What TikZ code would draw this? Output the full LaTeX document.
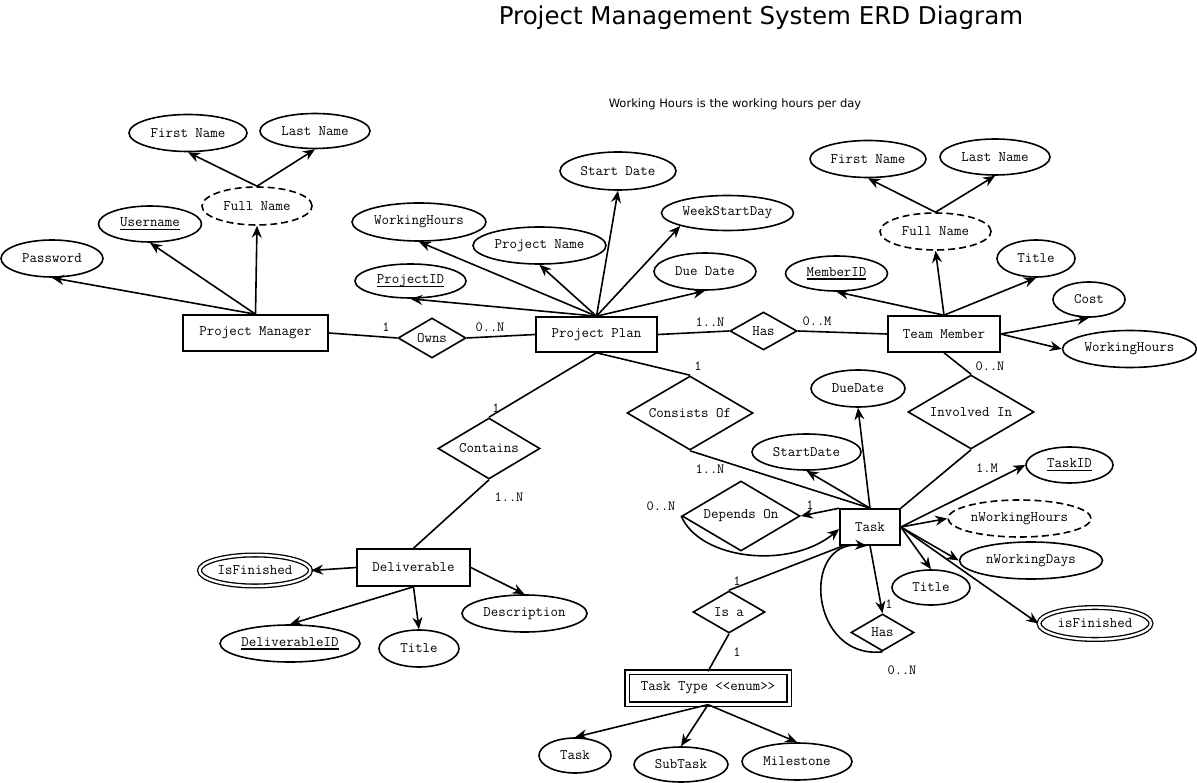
\documentclass[tikz,border=0pt]{standalone}
\usepackage{fontspec}
\newfontfamily\titlefont{DejaVu Sans}
\usetikzlibrary{shapes.geometric,arrows.meta}
\newcommand\keyattr[1]{\setbox0\hbox{#1}\rlap{\rule[-3.5pt]{\wd0}{1.4pt}}\box0}
\begin{document}
\begin{tikzpicture}[x=1pt,y=-1pt, line width=1.6pt,
 every node/.style={font=\ttfamily\fontsize{14.5}{16}\selectfont, inner sep=0pt},
 ent/.style={draw, rectangle, line width=1.6pt},
 rel/.style={draw, diamond, aspect=2, line width=1.6pt},
 attr/.style 2 args={draw, ellipse, minimum width=#1, minimum height=#2, line width=1.6pt},
 derived/.style={dash pattern=on 7pt off 4pt},
 multi/.style={double, double distance=2.4pt, line width=1.3pt},
 arr/.style={-{Stealth[length=12pt,width=10pt,inset=4pt]}},
 lbl/.style={font=\ttfamily\fontsize{14}{16}\selectfont}
]
\useasboundingbox (0,0) rectangle (1197,783);

% titles
\node[font=\titlefont\fontsize{24.5}{28}\selectfont] (title) at (761,18) {Project Management System ERD Diagram};
\node[font=\titlefont\fontsize{11.5}{13}\selectfont] (note) at (735,104) {Working Hours is the working hours per day};

% entities
\node[ent, minimum width=145, minimum height=36] (pm) at (255.5,333) {Project Manager};
\node[ent, minimum width=121, minimum height=35] (pp) at (596.5,334.5) {Project Plan};
\node[ent, minimum width=112, minimum height=36] (tm) at (944,334) {Team Member};
\node[ent, minimum width=60, minimum height=36] (task) at (870,527) {Task};
\node[ent, minimum width=113, minimum height=37] (del) at (413.5,567.5) {Deliverable};
\node[ent, minimum width=162, minimum height=32, double, double distance=3pt, line width=1.3pt] (tt) at (708,688) {Task Type <{}<enum>{}>};

% relationships
\node[rel, minimum width=68, minimum height=40] (owns) at (432,338) {Owns};
\node[rel, minimum width=67, minimum height=38] (hastop) at (763.5,331) {Has};
\node[rel, minimum width=102, minimum height=61] (contains) at (489,448.5) {Contains};
\node[rel, minimum width=126, minimum height=74] (consists) at (690,413) {Consists Of};
\node[rel, minimum width=126, minimum height=74] (involved) at (971,412) {Involved In};
\node[rel, minimum width=118, minimum height=70] (depends) at (741,516) {Depends On};
\node[rel, minimum width=63, minimum height=37] (hasbot) at (882.5,632.5) {Has};
\node[rel, minimum width=72, minimum height=42] (isa) at (729,612) {Is a};

% Project Manager attributes
\node[attr={118}{37}] (first1) at (188,133) {First Name};
\node[attr={110}{35}] (last1) at (315,131) {Last Name};
\node[attr={110}{38}, derived] (full1) at (257,206) {Full Name};
\node[attr={103}{36}] (user) at (150,224) {\keyattr{Username}};
\node[attr={102}{37}] (pass) at (52,258.5) {Password};

% Project Plan attributes
\node[attr={116}{38}] (start1) at (618,171) {Start Date};
\node[attr={132}{35}] (wsd) at (727.5,213) {WeekStartDay};
\node[attr={134}{38}] (wh1) at (419,222) {WorkingHours};
\node[attr={133}{37}] (pname) at (539.5,245.5) {Project Name};
\node[attr={102}{37}] (due1) at (705,271.5) {Due Date};
\node[attr={111}{34}] (pid) at (410.5,281) {\keyattr{ProjectID}};

% Team Member attributes
\node[attr={116}{37}] (first2) at (868,159) {First Name};
\node[attr={110}{36}] (last2) at (995,157) {Last Name};
\node[attr={111}{37}, derived] (full2) at (935.5,231.5) {Full Name};
\node[attr={78}{37}] (title2) at (1036,258.5) {Title};
\node[attr={102}{35}] (mid) at (836.5,273.5) {\keyattr{MemberID}};
\node[attr={72}{35}] (cost) at (1089,299.5) {Cost};
\node[attr={134}{37}] (wh2) at (1129.5,349) {WorkingHours};

% Task attributes
\node[attr={94}{37}] (due2) at (858,388.5) {DueDate};
\node[attr={109}{36}] (start2) at (806.5,452) {StartDate};
\node[attr={87}{36}] (tid) at (1069.5,465) {\keyattr{TaskID}};
\node[attr={143}{37}, derived] (nwh) at (1019.5,518.5) {nWorkingHours};
\node[attr={143}{37}] (nwd) at (1031,560.5) {nWorkingDays};
\node[attr={78}{35}] (title3) at (931,587.5) {Title};
\node[attr={112}{32}, multi] (isfin2) at (1095,623.5) {isFinished};

% Deliverable attributes
\node[attr={111}{31}, multi] (isfin1) at (255,570.5) {IsFinished};
\node[attr={140}{37}] (delid) at (290,643.5) {\keyattr{DeliverableID}};
\node[attr={80}{37}] (title4) at (419,648.5) {Title};
\node[attr={125}{37}] (desc) at (524.5,613.5) {Description};

% Task Type values
\node[attr={72}{35}] (ttask) at (575,755.5) {Task};
\node[attr={94}{35}] (sub) at (681,764.5) {SubTask};
\node[attr={110}{37}] (mile) at (797,761.5) {Milestone};

% relationship lines
\draw (pm.east) -- (owns.west);
\draw (owns.east) -- (pp.west);
\draw (pp.east) -- (hastop.west);
\draw (hastop.east) -- (tm.west);
\draw (pp.south) -- (contains.north);
\draw (contains.south) -- (del.north);
\draw (pp.south) -- (consists.north);
\draw (consists.south) -- (task.north);
\draw (tm.south) -- (involved.north);
\draw (involved.south) -- (task.north east);
\draw (isa.north) -- ([xshift=4pt]task.south west);
\draw (isa.south) -- (tt.north);
\draw[arr] (task.north west) -- (depends.east);
\draw[arr] (depends.west) .. controls (700,560) and (790,570) .. ([yshift=-2pt]task.west);
\draw[arr] (task.south) -- (hasbot.north);
\draw[arr] (hasbot.south) .. controls (810,660) and (800,540) .. ([xshift=-3pt]task.south);

% attribute arrows
\draw[arr] (pm.north) -- (pass.south);
\draw[arr] (pm.north) -- (user.south);
\draw[arr] (pm.north) -- (full1.south);
\draw[arr] (full1.north) -- (first1.south);
\draw[arr] (full1.north) -- (last1.south);

\draw[arr] (pp.north) -- (wh1.south);
\draw[arr] (pp.north) -- (pname.south);
\draw[arr] (pp.north) -- (start1.south);
\draw[arr] (pp.north) -- (wsd.south west);
\draw[arr] (pp.north) -- (due1.south);
\draw[arr] (pp.north) -- (pid.south);

\draw[arr] (tm.north) -- (full2.south);
\draw[arr] (tm.north) -- (mid.south);
\draw[arr] (tm.north) -- (title2.south);
\draw[arr] (full2.north) -- (first2.south);
\draw[arr] (full2.north) -- (last2.south);
\draw[arr] (tm.east) -- (cost.south);
\draw[arr] (tm.east) -- (wh2.west);

\draw[arr] (task.north) -- (due2.south);
\draw[arr] (task.north) -- (start2.south);
\draw[arr] (task.east) -- (tid.west);
\draw[arr] (task.east) -- (nwh.west);
\draw[arr] (task.east) -- (nwd.west);
\draw[arr] (task.east) -- (title3.north);
\draw[arr] (task.east) -- (isfin2.west);

\draw[arr] (del.west) -- (isfin1.east);
\draw[arr] (del.south) -- (delid.north);
\draw[arr] (del.south) -- (title4.north);
\draw[arr] (del.east) -- (desc.north);

\draw[arr] (tt.south) -- (ttask.north);
\draw[arr] (tt.south) -- (sub.north);
\draw[arr] (tt.south) -- (mile.north);

% cardinality labels
\node[lbl] (c1) at (386,327) {1};
\node[lbl] (c2) at (490,327) {0..N};
\node[lbl] (c3) at (710,322) {1..N};
\node[lbl] (c4) at (817,321) {0..M};
\node[lbl] (c5) at (698,366) {1};
\node[lbl] (c6) at (496,408) {1};
\node[lbl] (c7) at (509,497) {1..N};
\node[lbl] (c8) at (710,469) {1..N};
\node[lbl] (c9) at (990,366) {0..N};
\node[lbl] (c10) at (987,468) {1.M};
\node[lbl] (c11) at (810,505) {1};
\node[lbl] (c12) at (661,506) {0..N};
\node[lbl] (c13) at (737,581) {1};
\node[lbl] (c14) at (737,652) {1};
\node[lbl] (c15) at (889,604) {1};
\node[lbl] (c16) at (902,670) {0..N};
\end{tikzpicture}
\end{document}
